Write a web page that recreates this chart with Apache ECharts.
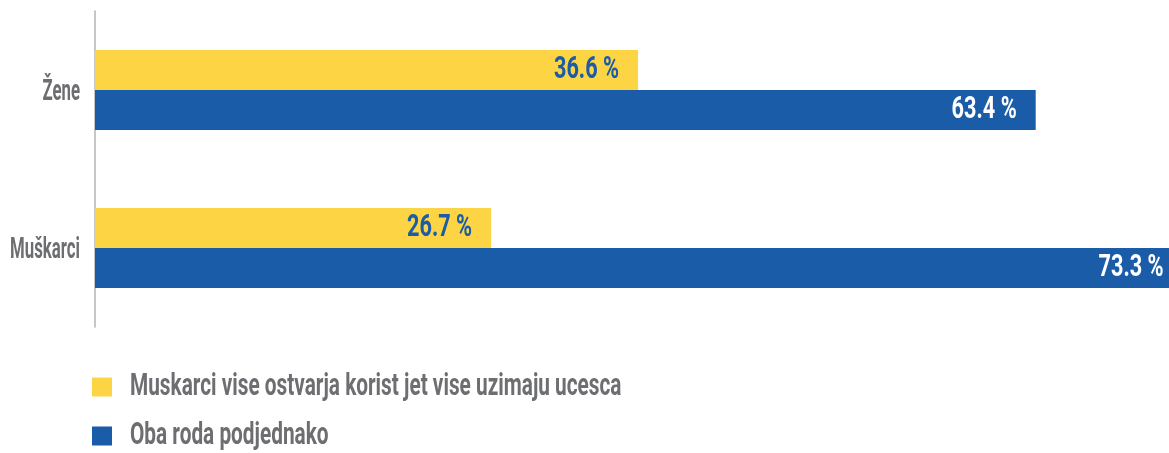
<!DOCTYPE html>
<html>
<head>
<meta charset="utf-8">
<script src="https://cdn.jsdelivr.net/npm/echarts@6/dist/echarts.min.js"></script>
<style>
  html, body { margin: 0; padding: 0; background: #ffffff; }
  #chart { width: 1169px; height: 453px; }
</style>
</head>
<body>
<div id="chart"></div>
<script>
// Categories (top to bottom) and the two answer shares, in percent
const categories = ['Žene', 'Muškarci'];
const seriesNames = ['Muskarci vise ostvarja korist jet vise uzimaju ucesca', 'Oba roda podjednako'];
const menBenefitMore = [36.6, 26.7];
const bothEqually = [63.4, 73.3];

const FONT_FAMILY = 'Roboto, "Noto Sans", sans-serif';
// horizontal squeeze per text group, giving the text a condensed look
const NARROW_VALUE = 0.7;
const NARROW_CATEGORY = 0.56;
const NARROW_LEGEND = 0.65;
const YELLOW = '#FDD444';
const BLUE = '#1A5CA8';
const GREY = '#6D6E71';
const BAR_W = 40;

const chart = echarts.init(document.getElementById('chart'), null, { renderer: 'canvas' });

function textStyle(text, fill, size, align) {
  return {
    text: text,
    fill: fill,
    fontFamily: FONT_FAMILY,
    fontWeight: 'bold',
    fontSize: size,
    align: align,
    verticalAlign: 'middle'
  };
}

// Condensed value label placed just inside the bar end; dy shifts to the series' slot in the band
function valueLabels(values, color, dy) {
  return {
    type: 'custom',
    coordinateSystem: 'cartesian2d',
    clip: false,
    silent: true,
    z: 5,
    encode: { x: 0, y: 1 },
    data: values.map((v, i) => [v, i]),
    renderItem: (params, api) => {
      const pt = api.coord([api.value(0), api.value(1)]);
      return {
        type: 'text',
        x: pt[0] - 19,
        y: pt[1] + dy,
        scaleX: NARROW_VALUE,
        style: textStyle(api.value(0).toFixed(1) + ' %', color, 31, 'right')
      };
    }
  };
}

// Category names to the left of the axis line
const categoryLabels = {
  type: 'custom',
  coordinateSystem: 'cartesian2d',
  clip: false,
  silent: true,
  z: 5,
  encode: { x: 0, y: 1 },
  data: categories.map((c, i) => [0, i]),
  renderItem: (params, api) => {
    const idx = api.value(1);
    const pt = api.coord([0, idx]);
    return {
      type: 'text',
      x: pt[0] - 15,
      y: pt[1] + 2,
      scaleX: NARROW_CATEGORY,
      style: textStyle(categories[idx], GREY, 30, 'right')
    };
  }
};

// Legend: colour square plus condensed series name, one row per series
const legendColors = [YELLOW, BLUE];
const legendRows = [387, 436];
const legendGraphics = [];
seriesNames.forEach((name, i) => {
  legendGraphics.push({
    type: 'rect',
    shape: { x: 92, y: legendRows[i] - 9.5, width: 20, height: 19 },
    style: { fill: legendColors[i] }
  });
  legendGraphics.push({
    type: 'text',
    x: 130,
    y: legendRows[i],
    scaleX: NARROW_LEGEND,
    style: textStyle(name, GREY, 32, 'left')
  });
});

chart.setOption({
  animation: false,
  backgroundColor: '#ffffff',
  grid: { left: 95, top: 11, width: 1187, height: 316, outerBoundsMode: 'none', containLabel: false },
  xAxis: {
    type: 'value',
    min: 0,
    max: 80,
    show: false
  },
  yAxis: {
    type: 'category',
    inverse: true,
    data: categories,
    axisLine: { show: true, lineStyle: { color: '#B3B3B3', width: 1.5 } },
    axisTick: { show: false },
    axisLabel: { show: false }
  },
  graphic: legendGraphics,
  series: [
    {
      name: seriesNames[0],
      type: 'bar',
      data: menBenefitMore,
      barWidth: BAR_W,
      barGap: '0%',
      itemStyle: { color: YELLOW }
    },
    {
      name: seriesNames[1],
      type: 'bar',
      data: bothEqually,
      barWidth: BAR_W,
      barGap: '0%',
      itemStyle: { color: BLUE }
    },
    valueLabels(menBenefitMore, BLUE, -BAR_W / 2),
    valueLabels(bothEqually, '#ffffff', BAR_W / 2),
    categoryLabels
  ]
});
</script>
</body>
</html>
